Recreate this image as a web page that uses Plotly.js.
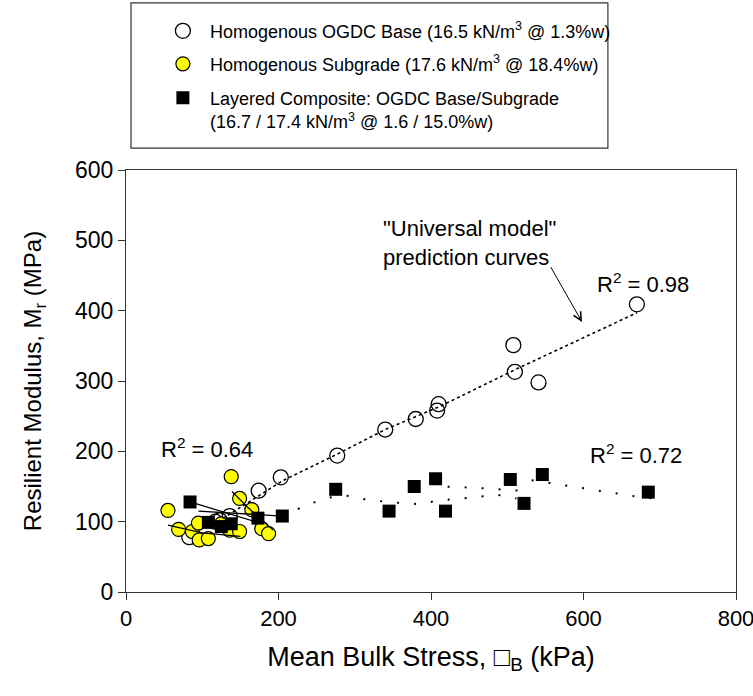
<!DOCTYPE html>
<html>
<head>
<meta charset="utf-8">
<script src="https://cdn.plot.ly/plotly-3.0.1.min.js"></script>
<style>html,body{margin:0;padding:0;background:#fff;}#chart{width:753px;height:696px;}</style>
</head>
<body>
<div id="chart"></div>
<script>
// ---- Data ----
const baseX = [83, 117, 123, 136, 174, 203, 277, 340, 380, 408, 410, 508, 510, 541, 670];
const baseY = [78, 100, 102, 108, 144, 163, 194, 231, 246, 258, 267, 351, 313, 298, 409];

const subX = [55, 69, 87, 95, 96, 108, 125, 136, 138, 149, 149, 165, 178, 187];
const subY = [116, 89, 86, 98, 74, 76, 97, 88, 164, 86, 133, 117, 90, 83];

const compX = [84, 108, 125, 138, 173, 205, 275, 345, 378, 406, 419, 504, 522, 546, 685];
const compY = [128, 99, 93, 97, 105, 108, 146, 115, 150, 161, 115, 160, 126, 167, 142];

// "Universal model" prediction curves
const baseFitX = [120, 138, 150, 176, 205, 277, 340, 380, 412, 510, 670];
const baseFitY = [100, 112, 121, 138, 158, 196, 231, 249, 264, 316, 397];

const subFitX = [55, 100, 150, null, 139, 160, 193];
const subFitY = [95, 84, 79, null, 143, 120, 88];

const compLowX = [84, 176, null, 95, 140, 205];
const compLowY = [128, 98, null, 115, 112, 108];

const compFitX = [205, 240, 265, 289, 313, 342, 383, 410, 450, 488, 512, null, 378, 401, 418, 460, 517, null, 532, 555, 579, 601, 627, 651, 674, 690];
const compFitY = [108, 125, 134, 137, 132, 128, 125, 130, 134, 138, 133, null, 152, 155, 150, 148, 144, null, 159, 155, 151, 147, 143, 139, 135, 133];

const legendNames = [
  'Homogenous OGDC Base (16.5 kN/m<sup>3</sup> @ 1.3%w)',
  'Homogenous Subgrade (17.6 kN/m<sup>3</sup> @ 18.4%w)',
  'Layered Composite: OGDC Base/Subgrade<br>(16.7 / 17.4 kN/m<sup>3</sup> @ 1.6 / 15.0%w)'
];
const r2Labels = ['R<sup>2</sup> = 0.64', 'R<sup>2</sup> = 0.98', 'R<sup>2</sup> = 0.72'];

const FONT = 'Liberation Sans, Arial, Helvetica, sans-serif';

const traces = [
  {x: baseX, y: baseY, type: 'scatter', mode: 'markers', name: legendNames[0], legend: 'legend',
   marker: {symbol: 'circle-open', size: 15, color: '#000', line: {width: 1.3, color: '#000'}}},
  {x: subX, y: subY, type: 'scatter', mode: 'markers', name: legendNames[1], legend: 'legend2',
   marker: {symbol: 'circle', size: 14, color: '#ffff00', line: {width: 1.2, color: '#000'}}},
  {x: baseFitX, y: baseFitY, type: 'scatter', mode: 'lines', showlegend: false, hoverinfo: 'skip',
   line: {color: '#000', width: 1.6, dash: 'dot'}},
  {x: subFitX, y: subFitY, type: 'scatter', mode: 'lines', showlegend: false, hoverinfo: 'skip',
   line: {color: '#000', width: 1.3}},
  {x: compLowX, y: compLowY, type: 'scatter', mode: 'lines', showlegend: false, hoverinfo: 'skip',
   line: {color: '#000', width: 1.3}},
  {x: compFitX, y: compFitY, type: 'scatter', mode: 'lines', showlegend: false, hoverinfo: 'skip',
   line: {color: '#000', width: 2, dash: '2px,15px'}},
  {x: compX, y: compY, type: 'scatter', mode: 'markers', name: legendNames[2], legend: 'legend3',
   marker: {symbol: 'square', size: 13, color: '#000', line: {width: 0}}}
];

const legendCommon = {xanchor: 'left', yanchor: 'middle', bgcolor: 'rgba(0,0,0,0)', borderwidth: 0,
  font: {family: FONT, size: 18, color: '#000'}, valign: 'top', itemwidth: 44};

const layout = {
  width: 753, height: 696,
  margin: {l: 126, r: 17, t: 170, b: 104, pad: 0},
  paper_bgcolor: '#fff', plot_bgcolor: '#fff',
  font: {family: FONT, color: '#000'},
  showlegend: true,
  legend: Object.assign({x: 0.049, y: 1.329}, legendCommon),
  legend2: Object.assign({x: 0.049, y: 1.251}, legendCommon),
  legend3: Object.assign({x: 0.049, y: 1.143}, legendCommon),
  xaxis: {range: [0, 800], dtick: 200, tick0: 0, ticks: 'outside', ticklen: 7, tickwidth: 1, tickcolor: '#333',
    showline: true, linecolor: '#333', linewidth: 1, mirror: true, showgrid: false, zeroline: false,
    ticklabeloverflow: 'allow',
    tickfont: {family: FONT, size: 22, color: '#000'},
    title: {text: 'Mean Bulk Stress, \u25A1<sub>B</sub> (kPa)', font: {family: FONT, size: 27, color: '#000'}, standoff: 16}},
  yaxis: {range: [0, 600], dtick: 100, tick0: 0, ticks: 'outside', ticklen: 7, tickwidth: 1, tickcolor: '#333',
    showline: true, linecolor: '#333', linewidth: 1, mirror: true, showgrid: false, zeroline: false,
    ticklabeloverflow: 'allow',
    tickfont: {family: FONT, size: 23, color: '#000'},
    title: {text: 'Resilient Modulus, M<sub>r</sub> (MPa)', font: {family: FONT, size: 24, color: '#000'}, standoff: 26}},
  shapes: [
    {type: 'rect', xref: 'paper', yref: 'paper', x0: 0.0082, x1: 0.790, y0: 1.052, y1: 1.396,
     line: {color: '#333', width: 1.2}, fillcolor: 'rgba(0,0,0,0)'}
  ],
  annotations: [
    {x: 106, y: 205, xref: 'x', yref: 'y', text: r2Labels[0], showarrow: false, font: {family: FONT, size: 22, color: '#000'}},
    {x: 678, y: 439, xref: 'x', yref: 'y', text: r2Labels[1], showarrow: false, font: {family: FONT, size: 22, color: '#000'}},
    {x: 669, y: 196, xref: 'x', yref: 'y', text: r2Labels[2], showarrow: false, font: {family: FONT, size: 22, color: '#000'}},
    {x: 451, y: 496, xref: 'x', yref: 'y', text: '"Universal model"<br>prediction curves', showarrow: false, align: 'left',
     font: {family: FONT, size: 22, color: '#000'}},
    {x: 598, y: 384, xref: 'x', yref: 'y', ax: 556, ay: 464, axref: 'x', ayref: 'y', text: '', showarrow: true,
     arrowhead: 5, arrowsize: 1.6, arrowwidth: 1, arrowcolor: '#000', standoff: 0, startstandoff: 0}
  ]
};

Plotly.newPlot('chart', traces, layout, {staticPlot: true, displayModeBar: false});
</script>
</body>
</html>
